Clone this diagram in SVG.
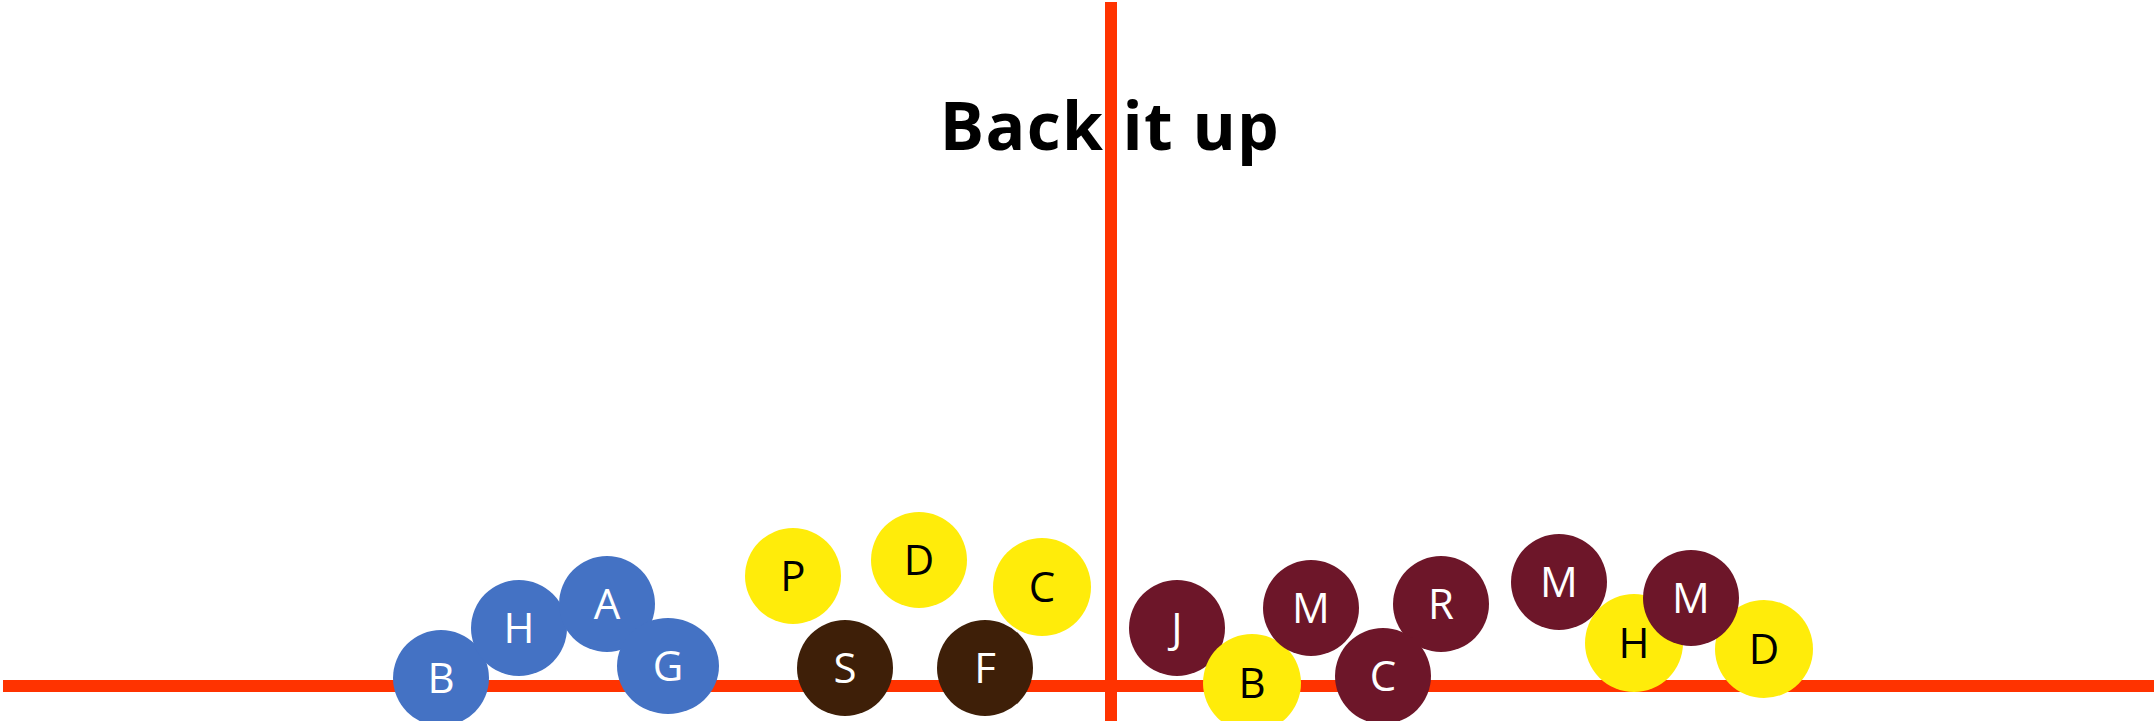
<svg xmlns="http://www.w3.org/2000/svg" width="2156" height="721" viewBox="0 0 2156 721">
<style>
.blue{fill:#4472C4}
.yel{fill:#FFEC0A}
.brn{fill:#3E1F08}
.mar{fill:#6D1629}
.axis{stroke:#FF3300;stroke-width:12;fill:none}
.lw{font-family:"Open Sans","Noto Sans","Liberation Sans",sans-serif;font-size:42px;fill:#FFFFFF;text-anchor:middle}
.lb{font-family:"Open Sans","Noto Sans","Liberation Sans",sans-serif;font-size:42px;fill:#000000;text-anchor:middle}
.title{font-family:"Open Sans","Noto Sans","Liberation Sans",sans-serif;font-size:66px;font-weight:700;fill:#000000;text-anchor:middle;letter-spacing:1.3px}
</style>
<rect width="2156" height="721" fill="#FFFFFF"/>
<text class="title" x="1110" y="150">Back it up</text>
<g id="connectors">
<line class="axis" x1="3" y1="686" x2="2154" y2="686"/>
<line class="axis" x1="1111" y1="2" x2="1111" y2="721"/>
</g>
<g id="node-B-blue"><circle class="blue" cx="441" cy="678" r="48"/><text class="lw" x="441" y="693">B</text></g>
<g id="node-H-blue"><circle class="blue" cx="519" cy="628" r="48"/><text class="lw" x="519" y="643">H</text></g>
<g id="node-A-blue"><circle class="blue" cx="607" cy="604" r="48"/><text class="lw" x="607" y="619">A</text></g>
<g id="node-G-blue"><ellipse class="blue" cx="668" cy="666" rx="51" ry="48"/><text class="lw" x="668" y="681">G</text></g>
<g id="node-P-yellow"><circle class="yel" cx="793" cy="576" r="48"/><text class="lb" x="793" y="591">P</text></g>
<g id="node-D-yellow"><circle class="yel" cx="919" cy="560" r="48"/><text class="lb" x="919" y="575">D</text></g>
<g id="node-C-yellow"><circle class="yel" cx="1042" cy="587" r="49"/><text class="lb" x="1042" y="602">C</text></g>
<g id="node-S-brown"><circle class="brn" cx="845" cy="668" r="48"/><text class="lw" x="845" y="683">S</text></g>
<g id="node-F-brown"><circle class="brn" cx="985" cy="668" r="48"/><text class="lw" x="985" y="683">F</text></g>
<g id="node-J-maroon"><circle class="mar" cx="1177" cy="628" r="48"/><text class="lw" x="1177" y="643">J</text></g>
<g id="node-B-yellow"><circle class="yel" cx="1252" cy="683" r="49"/><text class="lb" x="1252" y="698">B</text></g>
<g id="node-M1-maroon"><circle class="mar" cx="1311" cy="608" r="48"/><text class="lw" x="1311" y="623">M</text></g>
<g id="node-R-maroon"><circle class="mar" cx="1441" cy="604" r="48"/><text class="lw" x="1441" y="619">R</text></g>
<g id="node-C-maroon"><circle class="mar" cx="1383" cy="676" r="48"/><text class="lw" x="1383" y="691">C</text></g>
<g id="node-M2-maroon"><circle class="mar" cx="1559" cy="582" r="48"/><text class="lw" x="1559" y="597">M</text></g>
<g id="node-H-yellow"><circle class="yel" cx="1634" cy="643" r="49"/><text class="lb" x="1634" y="658">H</text></g>
<g id="node-D-yellow-2"><circle class="yel" cx="1764" cy="649" r="49"/><text class="lb" x="1764" y="664">D</text></g>
<g id="node-M3-maroon"><circle class="mar" cx="1691" cy="598" r="48"/><text class="lw" x="1691" y="613">M</text></g>
</svg>
